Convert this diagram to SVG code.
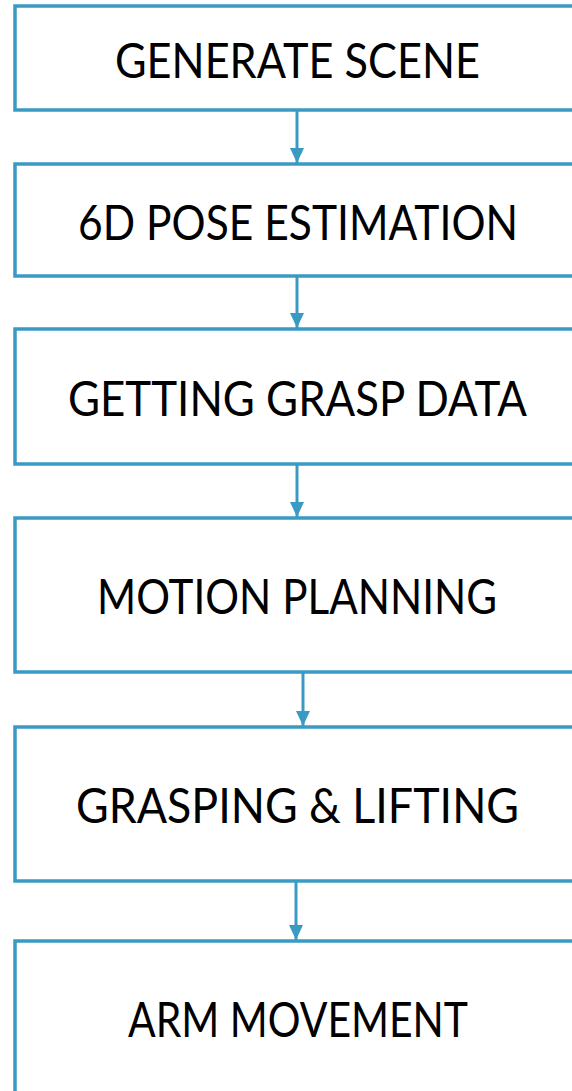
<svg xmlns="http://www.w3.org/2000/svg" width="572" height="1091" viewBox="0 0 572 1091">
<style>
.box{fill:#ffffff;stroke:#3a9ac3;stroke-width:3.5}
.lbl{font-family:Lato,"Open Sans",sans-serif;font-size:48px;fill:#000;text-anchor:middle}
.conn{stroke:#3a9ac3;stroke-width:3;fill:none}
</style>
<defs>
<marker id="ah" markerWidth="16" markerHeight="14" refX="15" refY="7" orient="auto" markerUnits="userSpaceOnUse">
<path d="M0,0 L15,7 L0,14 Z" fill="#3a9ac3"/>
</marker>
</defs>
<rect width="572" height="1091" fill="#ffffff"/>
<g id="connectors">
<line class="conn" x1="297" y1="111" x2="297" y2="163" marker-end="url(#ah)"/>
<line class="conn" x1="297" y1="277" x2="297" y2="328" marker-end="url(#ah)"/>
<line class="conn" x1="297" y1="465" x2="297" y2="517" marker-end="url(#ah)"/>
<line class="conn" x1="303" y1="673" x2="303" y2="726" marker-end="url(#ah)"/>
<line class="conn" x1="296" y1="882" x2="296" y2="940" marker-end="url(#ah)"/>
</g>
<g id="n1"><rect class="box" x="15" y="6" width="600" height="104"/><text class="lbl" x="297.5" y="78" textLength="365" lengthAdjust="spacingAndGlyphs">GENERATE SCENE</text></g>
<g id="n2"><rect class="box" x="15" y="164" width="600" height="112"/><text class="lbl" x="298" y="240" textLength="440" lengthAdjust="spacingAndGlyphs">6D POSE ESTIMATION</text></g>
<g id="n3"><rect class="box" x="15" y="329" width="600" height="135"/><text class="lbl" x="297.5" y="416" textLength="459" lengthAdjust="spacingAndGlyphs">GETTING GRASP DATA</text></g>
<g id="n4"><rect class="box" x="15" y="518" width="600" height="154"/><text class="lbl" x="297" y="614" textLength="400" lengthAdjust="spacingAndGlyphs">MOTION PLANNING</text></g>
<g id="n5"><rect class="box" x="15" y="727" width="600" height="154"/><text class="lbl" x="297.5" y="823" textLength="443" lengthAdjust="spacingAndGlyphs">GRASPING &amp; LIFTING</text></g>
<g id="n6"><rect class="box" x="15" y="941" width="600" height="200"/><text class="lbl" x="298" y="1037" textLength="340" lengthAdjust="spacingAndGlyphs">ARM MOVEMENT</text></g>
</svg>
